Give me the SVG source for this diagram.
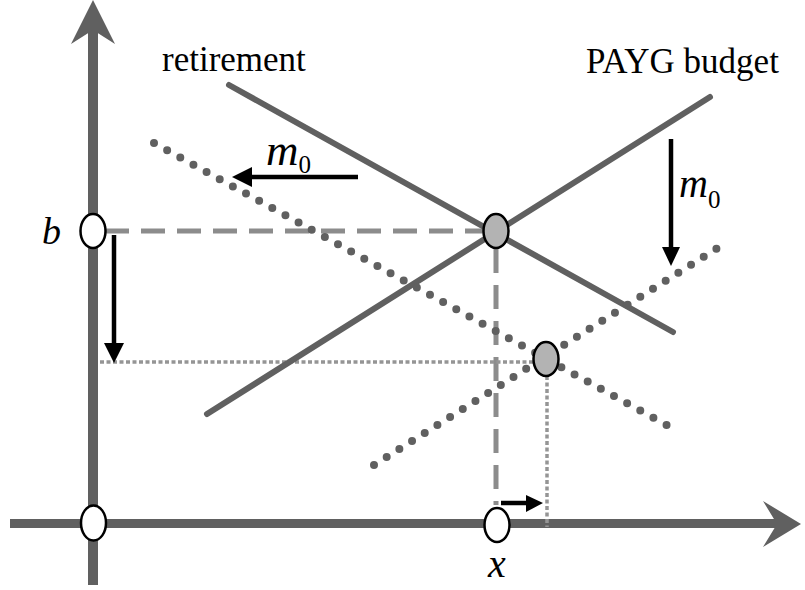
<svg xmlns="http://www.w3.org/2000/svg" width="805" height="590" viewBox="0 0 805 590">
<style>
.axis{stroke:#606060;fill:none}
.solid{stroke:#606060;stroke-width:6;stroke-linecap:round;fill:none}
.dots{stroke:#606060;stroke-width:8;stroke-linecap:round;stroke-dasharray:0 15;fill:none}
.dash{stroke:#8c8c8c;stroke-width:5;stroke-dasharray:24 12;fill:none}
.dotted{stroke:#959595;stroke-width:3.5;stroke-dasharray:4 2.5;fill:none}
.arr{stroke:#000;stroke-width:4.5;fill:none}
.node{stroke:#000;stroke-width:2.5}
.lbl{font-family:"Liberation Serif","Times New Roman",serif;fill:#000}
.it{font-style:italic}
</style>
<rect width="805" height="590" fill="#fff"/>
<g id="axes">
<line class="axis" x1="93" y1="585" x2="93" y2="30" stroke-width="10"/>
<polygon points="93,0 115,44 93,30 71,44" fill="#606060"/>
<line class="axis" x1="10" y1="523.5" x2="780" y2="523.5" stroke-width="9"/>
<polygon points="801,524 763,547 777,524 763,501" fill="#606060"/>
</g>
<g id="connectors">
<line class="dash" x1="105" y1="231" x2="483" y2="231"/>
<line class="dash" x1="496" y1="249" x2="496" y2="505"/>
<line class="dotted" x1="100" y1="362" x2="533" y2="362"/>
<line class="dotted" x1="547" y1="376" x2="547" y2="527"/>
<line class="solid" x1="229" y1="85" x2="673" y2="332"/>
<line class="solid" x1="207" y1="414" x2="710" y2="97"/>
<line class="dots" x1="154" y1="143" x2="672" y2="428"/>
<line class="dots" x1="374" y1="465" x2="727" y2="242"/>
<line class="arr" x1="358" y1="177" x2="248" y2="177"/>
<polygon points="232,177 252,167 252,187"/>
<line class="arr" x1="671" y1="139" x2="671" y2="250"/>
<polygon points="671,266 662,247 680,247"/>
<line class="arr" x1="114" y1="235" x2="114" y2="346" stroke-width="3.5"/>
<polygon points="114,363 104,343 124,343"/>
<line class="arr" x1="501" y1="503" x2="528" y2="503" stroke-width="4"/>
<polygon points="543,503 526,495 526,512"/>
</g>
<g id="node-origin"><ellipse class="node" cx="93.5" cy="523" rx="12.5" ry="17.5" fill="#fff"/></g>
<g id="node-b"><ellipse class="node" cx="93" cy="231" rx="12.5" ry="17" fill="#fff"/></g>
<g id="node-x"><ellipse class="node" cx="497" cy="525" rx="12.5" ry="17" fill="#fff"/></g>
<g id="node-eq1"><ellipse class="node" cx="496" cy="231" rx="12.5" ry="17" fill="#b3b3b3"/></g>
<g id="node-eq2"><ellipse class="node" cx="546" cy="359" rx="12.5" ry="17" fill="#b3b3b3"/></g>
<g id="labels">
<text class="lbl" x="162" y="71" font-size="35">retirement</text>
<text class="lbl" x="586" y="73" font-size="35">PAYG budget</text>
<text class="lbl it" x="42" y="244" font-size="38">b</text>
<text class="lbl it" x="488" y="577" font-size="40">x</text>
<text class="lbl" x="266" y="165"><tspan class="it" font-size="45">m</tspan><tspan font-size="25" dy="8">0</tspan></text>
<text class="lbl" x="679" y="197"><tspan class="it" font-size="40">m</tspan><tspan font-size="25" dy="11">0</tspan></text>
</g>
</svg>
